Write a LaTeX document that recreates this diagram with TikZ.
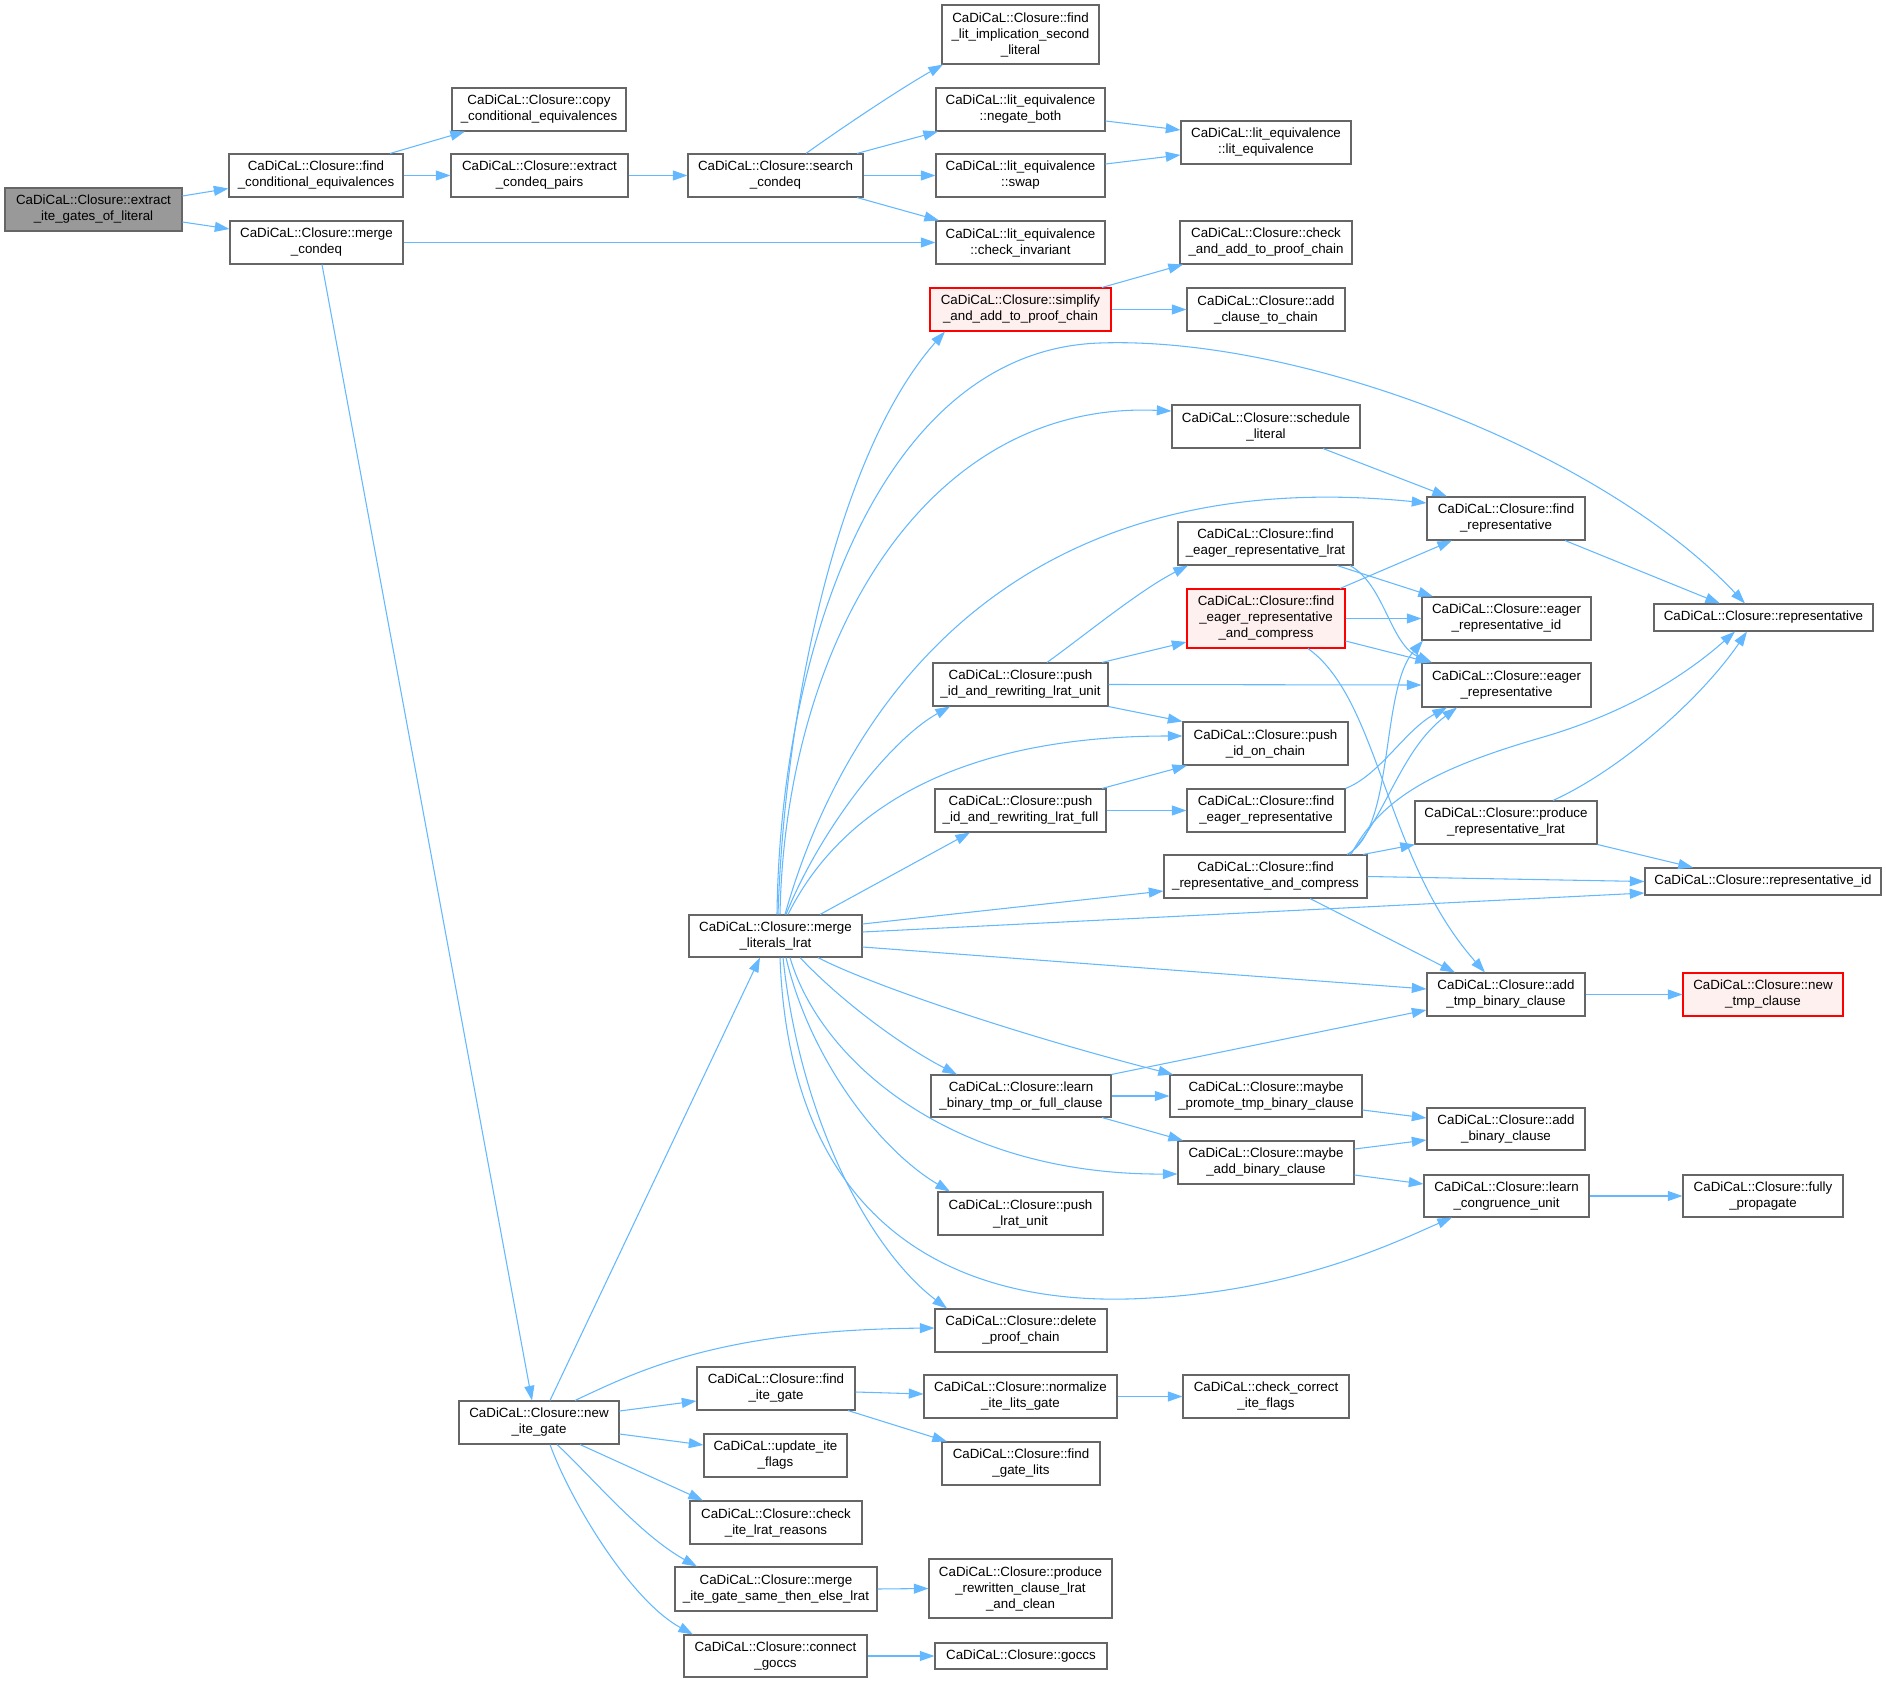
\documentclass[tikz,border=0pt]{standalone}
\usepackage{fontspec}
\setmainfont{Liberation Sans}
\usetikzlibrary{arrows.meta,calc}
\definecolor{edgec}{HTML}{63B8FF}
\definecolor{boxc}{HTML}{666666}
\definecolor{rootf}{HTML}{999999}
\definecolor{redb}{HTML}{FF0000}
\definecolor{redf}{HTML}{FFF0F0}
\tikzset{
  box/.style={draw=boxc, line width=0.8pt, fill=white, rectangle, inner sep=0pt, align=center, font=\fontsize{10}{12}\selectfont, text=black},
  rootbox/.style={fill=rootf},
  redbox/.style={draw=redb, fill=redf},
  edge/.style={draw=edgec, line width=0.8pt, -{Triangle[length=11pt,width=7.5pt]}},
}
\newcommand\nd[7][]{\node[box,#1,minimum width={(#5-#3)*0.75pt},minimum height={(#6-#4)*0.75pt}] (#2) at ({(#3+#5)/2},{(#4+#6)/2}) {#7};}
\begin{document}
\begin{tikzpicture}[x=0.75pt,y=-0.75pt]
\useasboundingbox (0,0) rectangle (1886,1683);
\nd[rootbox]{root}{5}{188}{182}{231}{CaDiCaL::Closure::extract\\\_ite\_gates\_of\_literal}
\nd{fce}{229}{154}{403}{197}{CaDiCaL::Closure::find\\\_conditional\_equivalences}
\nd{mcq}{230}{221}{403}{264}{CaDiCaL::Closure::merge\\\_condeq}
\nd{copy}{452}{88}{626}{131}{CaDiCaL::Closure::copy\\\_conditional\_equivalences}
\nd{ecp}{451}{154}{628}{197}{CaDiCaL::Closure::extract\\\_condeq\_pairs}
\nd{sc}{688}{154}{863}{197}{CaDiCaL::Closure::search\\\_condeq}
\nd{flis}{942}{5}{1099}{64}{CaDiCaL::Closure::find\\\_lit\_implication\_second\\\_literal}
\nd{neg}{936}{88}{1105}{131}{CaDiCaL::lit\_equivalence\\::negate\_both}
\nd{leq}{1181}{121}{1351}{164}{CaDiCaL::lit\_equivalence\\::lit\_equivalence}
\nd{swap}{936}{154}{1105}{197}{CaDiCaL::lit\_equivalence\\::swap}
\nd{chk}{936}{221}{1105}{264}{CaDiCaL::lit\_equivalence\\::check\_invariant}
\nd{cap}{1180}{221}{1352}{264}{CaDiCaL::Closure::check\\\_and\_add\_to\_proof\_chain}
\nd[redbox]{simp}{930}{288}{1111}{331}{CaDiCaL::Closure::simplify\\\_and\_add\_to\_proof\_chain}
\nd{acc}{1187}{288}{1345}{331}{CaDiCaL::Closure::add\\\_clause\_to\_chain}
\nd{sched}{1172}{405}{1360}{448}{CaDiCaL::Closure::schedule\\\_literal}
\nd{fr}{1427}{497}{1585}{540}{CaDiCaL::Closure::find\\\_representative}
\nd{ferl}{1178}{522}{1353}{565}{CaDiCaL::Closure::find\\\_eager\_representative\_lrat}
\nd[redbox]{ferc}{1187}{589}{1345}{648}{CaDiCaL::Closure::find\\\_eager\_representative\\\_and\_compress}
\nd{erid}{1422}{597}{1591}{640}{CaDiCaL::Closure::eager\\\_representative\_id}
\nd{rep}{1654}{604}{1873}{631}{CaDiCaL::Closure::representative}
\nd{pru}{933}{663}{1108}{706}{CaDiCaL::Closure::push\\\_id\_and\_rewriting\_lrat\_unit}
\nd{er}{1422}{663}{1591}{707}{CaDiCaL::Closure::eager\\\_representative}
\nd{pic}{1183}{722}{1348}{765}{CaDiCaL::Closure::push\\\_id\_on\_chain}
\nd{prf}{935}{789}{1106}{832}{CaDiCaL::Closure::push\\\_id\_and\_rewriting\_lrat\_full}
\nd{fer}{1187}{789}{1345}{832}{CaDiCaL::Closure::find\\\_eager\_representative}
\nd{prl}{1415}{801}{1597}{844}{CaDiCaL::Closure::produce\\\_representative\_lrat}
\nd{frc}{1164}{855}{1367}{898}{CaDiCaL::Closure::find\\\_representative\_and\_compress}
\nd{rid}{1645}{868}{1881}{895}{CaDiCaL::Closure::representative\_id}
\nd{mll}{689}{915}{862}{957}{CaDiCaL::Closure::merge\\\_literals\_lrat}
\nd{atb}{1427}{973}{1585}{1016}{CaDiCaL::Closure::add\\\_tmp\_binary\_clause}
\nd[redbox]{ntc}{1683}{973}{1843}{1016}{CaDiCaL::Closure::new\\\_tmp\_clause}
\nd{lbt}{931}{1075}{1111}{1117}{CaDiCaL::Closure::learn\\\_binary\_tmp\_or\_full\_clause}
\nd{mpt}{1170}{1075}{1362}{1117}{CaDiCaL::Closure::maybe\\\_promote\_tmp\_binary\_clause}
\nd{abc}{1427}{1108}{1585}{1150}{CaDiCaL::Closure::add\\\_binary\_clause}
\nd{mab}{1178}{1141}{1354}{1184}{CaDiCaL::Closure::maybe\\\_add\_binary\_clause}
\nd{lcu}{1424}{1175}{1589}{1217}{CaDiCaL::Closure::learn\\\_congruence\_unit}
\nd{fp}{1683}{1175}{1843}{1217}{CaDiCaL::Closure::fully\\\_propagate}
\nd{plu}{938}{1192}{1103}{1235}{CaDiCaL::Closure::push\\\_lrat\_unit}
\nd{dpc}{935}{1309}{1107}{1352}{CaDiCaL::Closure::delete\\\_proof\_chain}
\nd{fig}{697}{1367}{855}{1410}{CaDiCaL::Closure::find\\\_ite\_gate}
\nd{nig}{459}{1401}{619}{1444}{CaDiCaL::Closure::new\\\_ite\_gate}
\nd{nilg}{924}{1375}{1117}{1418}{CaDiCaL::Closure::normalize\\\_ite\_lits\_gate}
\nd{ccif}{1183}{1375}{1349}{1418}{CaDiCaL::check\_correct\\\_ite\_flags}
\nd{uif}{704}{1434}{847}{1477}{CaDiCaL::update\_ite\\\_flags}
\nd{fgl}{942}{1442}{1100}{1485}{CaDiCaL::Closure::find\\\_gate\_lits}
\nd{cilr}{690}{1501}{862}{1544}{CaDiCaL::Closure::check\\\_ite\_lrat\_reasons}
\nd{migs}{675}{1567}{877}{1611}{CaDiCaL::Closure::merge\\\_ite\_gate\_same\_then\_else\_lrat}
\nd{prc}{929}{1559}{1112}{1618}{CaDiCaL::Closure::produce\\\_rewritten\_clause\_lrat\\\_and\_clean}
\nd{cg}{684}{1635}{867}{1677}{CaDiCaL::Closure::connect\\\_goccs}
\nd{goccs}{935}{1643}{1107}{1669}{CaDiCaL::Closure::goccs}
% edges
\draw[edge] ($(root.east)+(0,-13.5)$) -- ($(fce.west)+(0,13)$);
\draw[edge] ($(root.east)+(0,12.5)$) -- ($(mcq.west)+(0,-13.5)$);
\draw[edge] ($(fce.north)+(74,0)$) -- ($(copy.south)+(-74,0)$);
\draw[edge] (fce.east) -- (ecp.west);
\draw[edge] (ecp.east) -- (sc.west);
\draw[edge] (mcq.east) -- (chk.west);
\draw[edge] ($(mcq.south)+(5.5,0)$) -- ($(nig.north)+(-7,0)$);
\draw[edge] ($(sc.north)+(30.5,0)$) .. controls (850,122) and (905,86) .. ($(flis.south)+(-77.5,0)$);
\draw[edge] ($(sc.north)+(81.5,0)$) -- ($(neg.south)+(-82.5,0)$);
\draw[edge] (sc.east) -- (swap.west);
\draw[edge] ($(sc.south)+(81.5,0)$) -- ($(chk.north)+(-81.5,0)$);
\draw[edge] ($(neg.east)+(0,11.5)$) -- ($(leq.west)+(0,-12.5)$);
\draw[edge] ($(swap.east)+(0,-11.5)$) -- ($(leq.west)+(0,12.5)$);
\draw[edge] ($(simp.north)+(81.5,0)$) -- ($(cap.south)+(-83,0)$);
\draw[edge] (simp.east) -- (acc.west);
\draw[edge] ($(sched.south)+(57,0)$) -- ($(fr.north)+(-59,0)$);
\draw[edge] ($(fr.south)+(59,0)$) -- ($(rep.north)+(-43.5,0)$);
\draw[edge] ($(ferl.south)+(71.5,0)$) -- ($(erid.north)+(-73.5,0)$);
\draw[edge] ($(ferl.south)+(84.5,0)$) .. controls (1385,585) and (1390,645) .. ($(er.north)+(-74.5,0)$);
\draw[edge] ($(ferc.north)+(74,0)$) -- ($(fr.south)+(-54,0)$);
\draw[edge] (ferc.east) -- (erid.west);
\draw[edge] ($(ferc.east)+(0,22.5)$) -- ($(er.north)+(-76.5,0)$);
\draw[edge] ($(ferc.south)+(42,0)$) .. controls (1380,700) and (1385,860) .. ($(atb.north)+(-21,0)$);
\draw[edge] ($(pru.north)+(26.5,0)$) .. controls (1085,635) and (1140,590) .. ($(ferl.south)+(-77.5,0)$);
\draw[edge] ($(pru.north)+(81.5,0)$) -- ($(ferc.west)+(0,23.5)$);
\draw[edge] (pru.east) -- (er.west);
\draw[edge] (pru.south east) -- (pic.north west);
\draw[edge] ($(prf.north)+(81.5,0)$) -- ($(pic.south)+(-78.5,0)$);
\draw[edge] (prf.east) -- (fer.west);
\draw[edge] (fer.north east) .. controls (1380,775) and (1405,730) .. ($(er.south)+(-59.5,0)$);
\draw[edge] ($(frc.north)+(81.5,0)$) .. controls (1395,830) and (1380,690) .. ($(erid.south)+(-83.5,0)$);
\draw[edge] ($(frc.north)+(83.5,0)$) .. controls (1385,820) and (1400,750) .. ($(er.south)+(-49.5,0)$);
\draw[edge] ($(frc.north)+(85.5,0)$) .. controls (1380,800) and (1430,770) .. (1540,738) .. controls (1620,715) and (1680,680) .. ($(rep.south)+(-28.5,0)$);
\draw[edge] ($(frc.north)+(97.5,0)$) -- ($(prl.south)+(-91,0)$);
\draw[edge] (frc.east) -- (rid.west);
\draw[edge] ($(frc.south)+(44.5,0)$) -- ($(atb.north)+(-51,0)$);
\draw[edge] ($(prl.north)+(47,0)$) .. controls (1620,770) and (1700,700) .. ($(rep.south)+(-16.5,0)$);
\draw[edge] (prl.south east) -- ($(rid.north)+(-70,0)$);
\draw[edge] (atb.east) -- (ntc.west);
\draw[edge] (lbt.north east) -- ($(atb.west)+(0,15.5)$);
\draw[edge] (lbt.east) -- (mpt.west);
\draw[edge] ($(lbt.south)+(81,0)$) -- ($(mab.north)+(-83,0)$);
\draw[edge] ($(mpt.east)+(0,14)$) -- ($(abc.west)+(0,-11)$);
\draw[edge] ($(mab.east)+(0,-13.5)$) -- ($(abc.west)+(0,11)$);
\draw[edge] ($(mab.east)+(0,12.5)$) -- ($(lcu.west)+(0,-12)$);
\draw[edge] (lcu.east) -- (fp.west);
\draw[edge] ($(nig.north)+(11,0)$) -- ($(mll.south)+(-15.5,0)$);
\draw[edge] ($(nig.north)+(36,0)$) .. controls (640,1370) and (720,1330) .. ($(dpc.west)+(0,-2.5)$);
\draw[edge] ($(nig.east)+(0,-11.5)$) -- ($(fig.west)+(0,12.5)$);
\draw[edge] ($(nig.east)+(0,11.5)$) -- ($(uif.west)+(0,-10.5)$);
\draw[edge] ($(nig.south)+(41,0)$) -- ($(cilr.north)+(-73,0)$);
\draw[edge] ($(nig.south)+(18,0)$) .. controls (590,1475) and (640,1535) .. ($(migs.north)+(-79,0)$);
\draw[edge] ($(nig.south)+(11,0)$) .. controls (570,1500) and (630,1600) .. ($(cg.north)+(-82.5,0)$);
\draw[edge] ($(fig.east)+(0,3.5)$) -- ($(nilg.west)+(0,-2.5)$);
\draw[edge] ($(fig.south)+(72,0)$) -- ($(fgl.north)+(-74,0)$);
\draw[edge] (nilg.east) -- (ccif.west);
\draw[edge] (migs.east) -- (prc.west);
\draw[edge] (cg.east) -- (goccs.west);
% merge_literals_lrat
\draw[edge] ($(mll.north)+(2.5,0)$) .. controls (785,700) and (840,450) .. ($(simp.south)+(-75.5,0)$);
\draw[edge] ($(mll.north)+(1.5,0)$) .. controls (780,650) and (880,350) .. (1100,343) .. controls (1300,336) and (1600,450) .. ($(rep.north)+(-18.5,0)$);
\draw[edge] ($(mll.north)+(4.5,0)$) .. controls (785,650) and (920,400) .. ($(sched.west)+(0,-15.5)$);
\draw[edge] ($(mll.north)+(9.5,0)$) .. controls (840,720) and (1000,460) .. ($(fr.west)+(0,-15.5)$);
\draw[edge] ($(mll.north)+(10.5,0)$) .. controls (820,830) and (890,740) .. ($(pru.south)+(-70.5,0)$);
\draw[edge] ($(mll.north)+(12.5,0)$) .. controls (830,830) and (930,736) .. ($(pic.west)+(0,-7.5)$);
\draw[edge] ($(mll.north)+(44.5,0)$) -- ($(prf.south)+(-50.5,0)$);
\draw[edge] ($(mll.east)+(0,-12)$) -- ($(frc.west)+(0,14.5)$);
\draw[edge] ($(mll.east)+(0,-4)$) -- ($(rid.west)+(0,11.5)$);
\draw[edge] ($(mll.east)+(0,11)$) -- ($(atb.west)+(0,-5.5)$);
\draw[edge] ($(mll.south)+(42.5,0)$) .. controls (860,980) and (1000,1030) .. ($(mpt.north)+(-93,0)$);
\draw[edge] ($(mll.south)+(24.5,0)$) .. controls (840,1000) and (900,1045) .. ($(lbt.north)+(-64,0)$);
\draw[edge] ($(mll.south)+(14.5,0)$) .. controls (820,1060) and (950,1175) .. ($(mab.west)+(0,11.5)$);
\draw[edge] ($(mll.south)+(10.5,0)$) .. controls (810,1060) and (880,1150) .. ($(plu.north)+(-70.5,0)$);
\draw[edge] ($(mll.south)+(7.5,0)$) .. controls (800,1120) and (870,1250) .. ($(dpc.north)+(-74,0)$);
\draw[edge] ($(mll.south)+(4.5,0)$) .. controls (790,1230) and (960,1310) .. (1150,1298) .. controls (1300,1290) and (1400,1240) .. ($(lcu.south)+(-54.5,0)$);
\end{tikzpicture}
\end{document}
